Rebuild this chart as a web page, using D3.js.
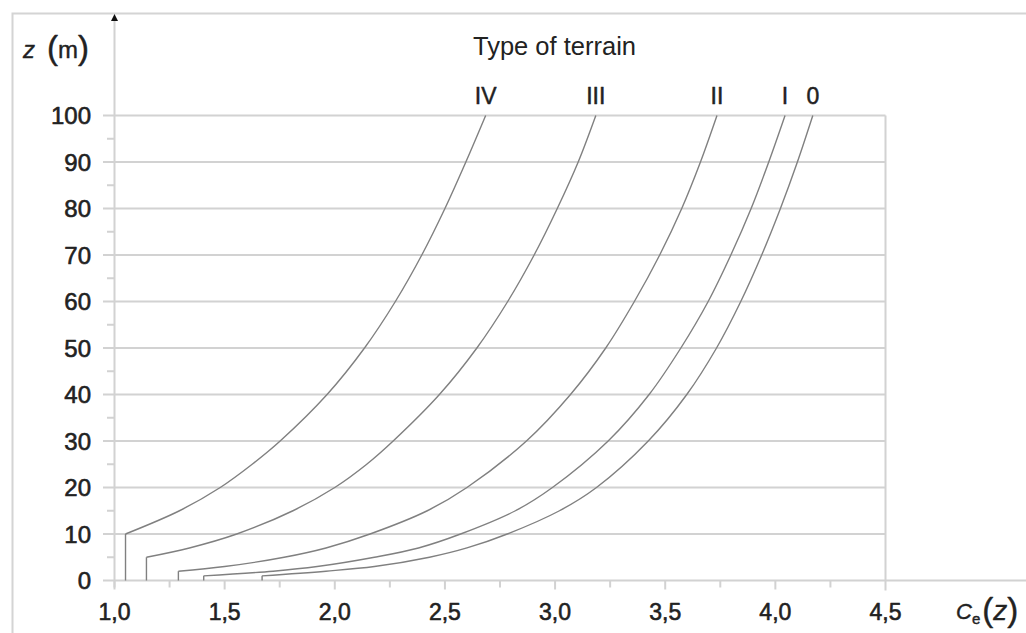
<!DOCTYPE html>
<html>
<head>
<meta charset="utf-8">
<script src="https://cdn.jsdelivr.net/npm/d3@7"></script>
<style>
  html, body { margin: 0; padding: 0; background: #fff; }
  svg { display: block; font-family: "Liberation Sans", Arial, sans-serif; }
</style>
</head>
<body>
<svg id="chart" width="1026" height="633"></svg>
<script>
// Exposure factor ce(z) versus height z for the five terrain categories
const terrains = ["0", "I", "II", "III", "IV"];
const zMin = [1, 1, 2, 5, 10];

// heights (m) and exposure factor along each curve, starting at zMin
const zTerrain0 = [1, 2, 3, 5, 7, 10, 15, 20, 30, 40, 50, 60, 70, 80, 90, 100];
const ceTerrain0 = [1.67, 1.96, 2.18, 2.43, 2.60, 2.783, 3.02, 3.188, 3.423, 3.598, 3.733, 3.843, 3.938, 4.023, 4.10, 4.17];

const zTerrainI = [1, 2, 3, 5, 7, 10, 15, 20, 30, 40, 50, 60, 70, 80, 90, 100];
const ceTerrainI = [1.405, 1.72, 1.92, 2.18, 2.38, 2.571, 2.82, 2.988, 3.241, 3.427, 3.571, 3.695, 3.798, 3.89, 3.97, 4.044];

const zTerrainII = [2, 3, 5, 7, 10, 15, 20, 30, 40, 50, 60, 70, 80, 90, 100];
const ceTerrainII = [1.29, 1.50, 1.77, 1.96, 2.16, 2.42, 2.60, 2.87, 3.07, 3.23, 3.36, 3.475, 3.575, 3.66, 3.735];

const zTerrainIII = [5, 7, 10, 15, 20, 25, 30, 40, 50, 60, 70, 80, 90, 100];
const ceTerrainIII = [1.145, 1.34, 1.555, 1.81, 2.0, 2.145, 2.265, 2.475, 2.645, 2.785, 2.905, 3.01, 3.105, 3.185];

const zTerrainIV = [10, 15, 20, 25, 30, 40, 50, 60, 70, 80, 90, 100];
const ceTerrainIV = [1.05, 1.295, 1.48, 1.625, 1.752, 1.965, 2.135, 2.275, 2.395, 2.50, 2.595, 2.685];

const zSeries = [zTerrain0, zTerrainI, zTerrainII, zTerrainIII, zTerrainIV];
const ceSeries = [ceTerrain0, ceTerrainI, ceTerrainII, ceTerrainIII, ceTerrainIV];

// axis ticks
const xTicks = [1.0, 1.5, 2.0, 2.5, 3.0, 3.5, 4.0, 4.5];
const xMinorTicks = [1.25, 1.75, 2.25, 2.75, 3.25, 3.75, 4.25];
const yTicks = [0, 10, 20, 30, 40, 50, 60, 70, 80, 90, 100];
const yMinorTicks = [5, 15, 25, 35, 45, 55, 65, 75, 85, 95];

const svg = d3.select("#chart");
const x = d3.scaleLinear().domain([1, 4.5]).range([114.5, 885.5]);
const y = d3.scaleLinear().domain([0, 100]).range([580.5, 115.5]);

const gridColor = "#d2d2d2";
const curveColor = "#808080";
const textColor = "#222";

// outer frame
svg.append("path")
  .attr("d", "M12.5,633 V13.5 H1026")
  .attr("fill", "none").attr("stroke", "#d4d4d4").attr("stroke-width", 2);

// horizontal grid lines
svg.append("g").selectAll("line").data(yTicks).join("line")
  .attr("x1", 103).attr("x2", d => d === 0 ? 1026 : x(4.5))
  .attr("y1", d => y(d)).attr("y2", d => y(d))
  .attr("stroke", gridColor).attr("stroke-width", 2);

// right border of plot
svg.append("line")
  .attr("x1", x(4.5)).attr("x2", x(4.5))
  .attr("y1", y(100)).attr("y2", y(0) + 10)
  .attr("stroke", gridColor).attr("stroke-width", 2);

// y axis line with arrow
svg.append("line")
  .attr("x1", x(1)).attr("x2", x(1))
  .attr("y1", 18).attr("y2", y(0) + 7)
  .attr("stroke", gridColor).attr("stroke-width", 2);
svg.append("path")
  .attr("d", `M${x(1)},14 L${x(1) - 3.5},21 L${x(1) + 3.5},21 Z`)
  .attr("fill", "#111");

// y minor ticks
svg.append("g").selectAll("line").data(yMinorTicks).join("line")
  .attr("x1", 107).attr("x2", x(1))
  .attr("y1", d => y(d)).attr("y2", d => y(d))
  .attr("stroke", gridColor).attr("stroke-width", 2);

// x ticks
svg.append("g").selectAll("line").data(xTicks.slice(0, -1)).join("line")
  .attr("x1", d => x(d)).attr("x2", d => x(d))
  .attr("y1", y(0)).attr("y2", y(0) + 9)
  .attr("stroke", gridColor).attr("stroke-width", 2);
svg.append("g").selectAll("line").data(xMinorTicks).join("line")
  .attr("x1", d => x(d)).attr("x2", d => x(d))
  .attr("y1", y(0)).attr("y2", y(0) + 7)
  .attr("stroke", gridColor).attr("stroke-width", 2);

// text gets a thin outline in its own colour for a heavier look
function heavy(sel, w) {
  return sel.attr("fill", textColor).attr("stroke", textColor)
    .attr("stroke-width", w).attr("stroke-linejoin", "round");
}

// tick labels
heavy(svg.append("g").selectAll("text").data(yTicks).join("text")
  .attr("x", 91).attr("y", d => y(d)).attr("dy", "0.36em")
  .attr("text-anchor", "end").attr("font-size", 24)
  .text(d => d), 0.6);
heavy(svg.append("g").selectAll("text").data(xTicks).join("text")
  .attr("x", d => x(d)).attr("y", 620)
  .attr("text-anchor", "middle").attr("font-size", 23)
  .text(d => d3.format(".1f")(d).replace(".", ",")), 0.6);

// curves
const line = d3.line()
  .x(d => x(d[1])).y(d => y(d[0]))
  .curve(d3.curveCatmullRom.alpha(0.5));
const curves = svg.append("g").attr("fill", "none").attr("stroke", curveColor).attr("stroke-width", 1.4);
terrains.forEach((t, i) => {
  const pts = zSeries[i].map((z, j) => [z, ceSeries[i][j]]);
  // constant value below zMin
  curves.append("line")
    .attr("x1", x(ceSeries[i][0])).attr("x2", x(ceSeries[i][0]))
    .attr("y1", y(0)).attr("y2", y(zMin[i]));
  curves.append("path").attr("d", line(pts));
});

// terrain labels above curve ends
heavy(svg.append("g").selectAll("text").data(terrains).join("text")
  .attr("x", (d, i) => x(ceSeries[i][ceSeries[i].length - 1]))
  .attr("y", 104).attr("text-anchor", "middle")
  .attr("font-size", 23)
  .text(d => d), 0.5);

svg.append("text").attr("x", 473).attr("y", 55)
  .attr("font-size", 25.5).attr("fill", textColor)
  .text("Type of terrain");

// axis titles
const zt = heavy(svg.append("text").attr("x", 23).attr("y", 58).attr("font-size", 24), 0.4);
zt.append("tspan").attr("font-style", "italic").text("z");
zt.append("tspan").attr("dx", 12).attr("font-size", 33).attr("dy", 1).text("(");
zt.append("tspan").attr("font-size", 24).attr("dy", -1).text("m");
zt.append("tspan").attr("font-size", 33).attr("dy", 1).text(")");

const ct = heavy(svg.append("text").attr("x", 956).attr("y", 619).attr("font-size", 22), 0.4);
ct.append("tspan").attr("font-style", "italic").text("C");
ct.append("tspan").attr("font-size", 15).attr("dy", 5).text("e");
ct.append("tspan").attr("font-size", 33).attr("dy", -3).attr("dx", 2).text("(");
ct.append("tspan").attr("font-style", "italic").attr("font-size", 28).attr("dy", -1).text("z");
ct.append("tspan").attr("font-size", 33).attr("dy", 1).text(")");
</script>
</body>
</html>
